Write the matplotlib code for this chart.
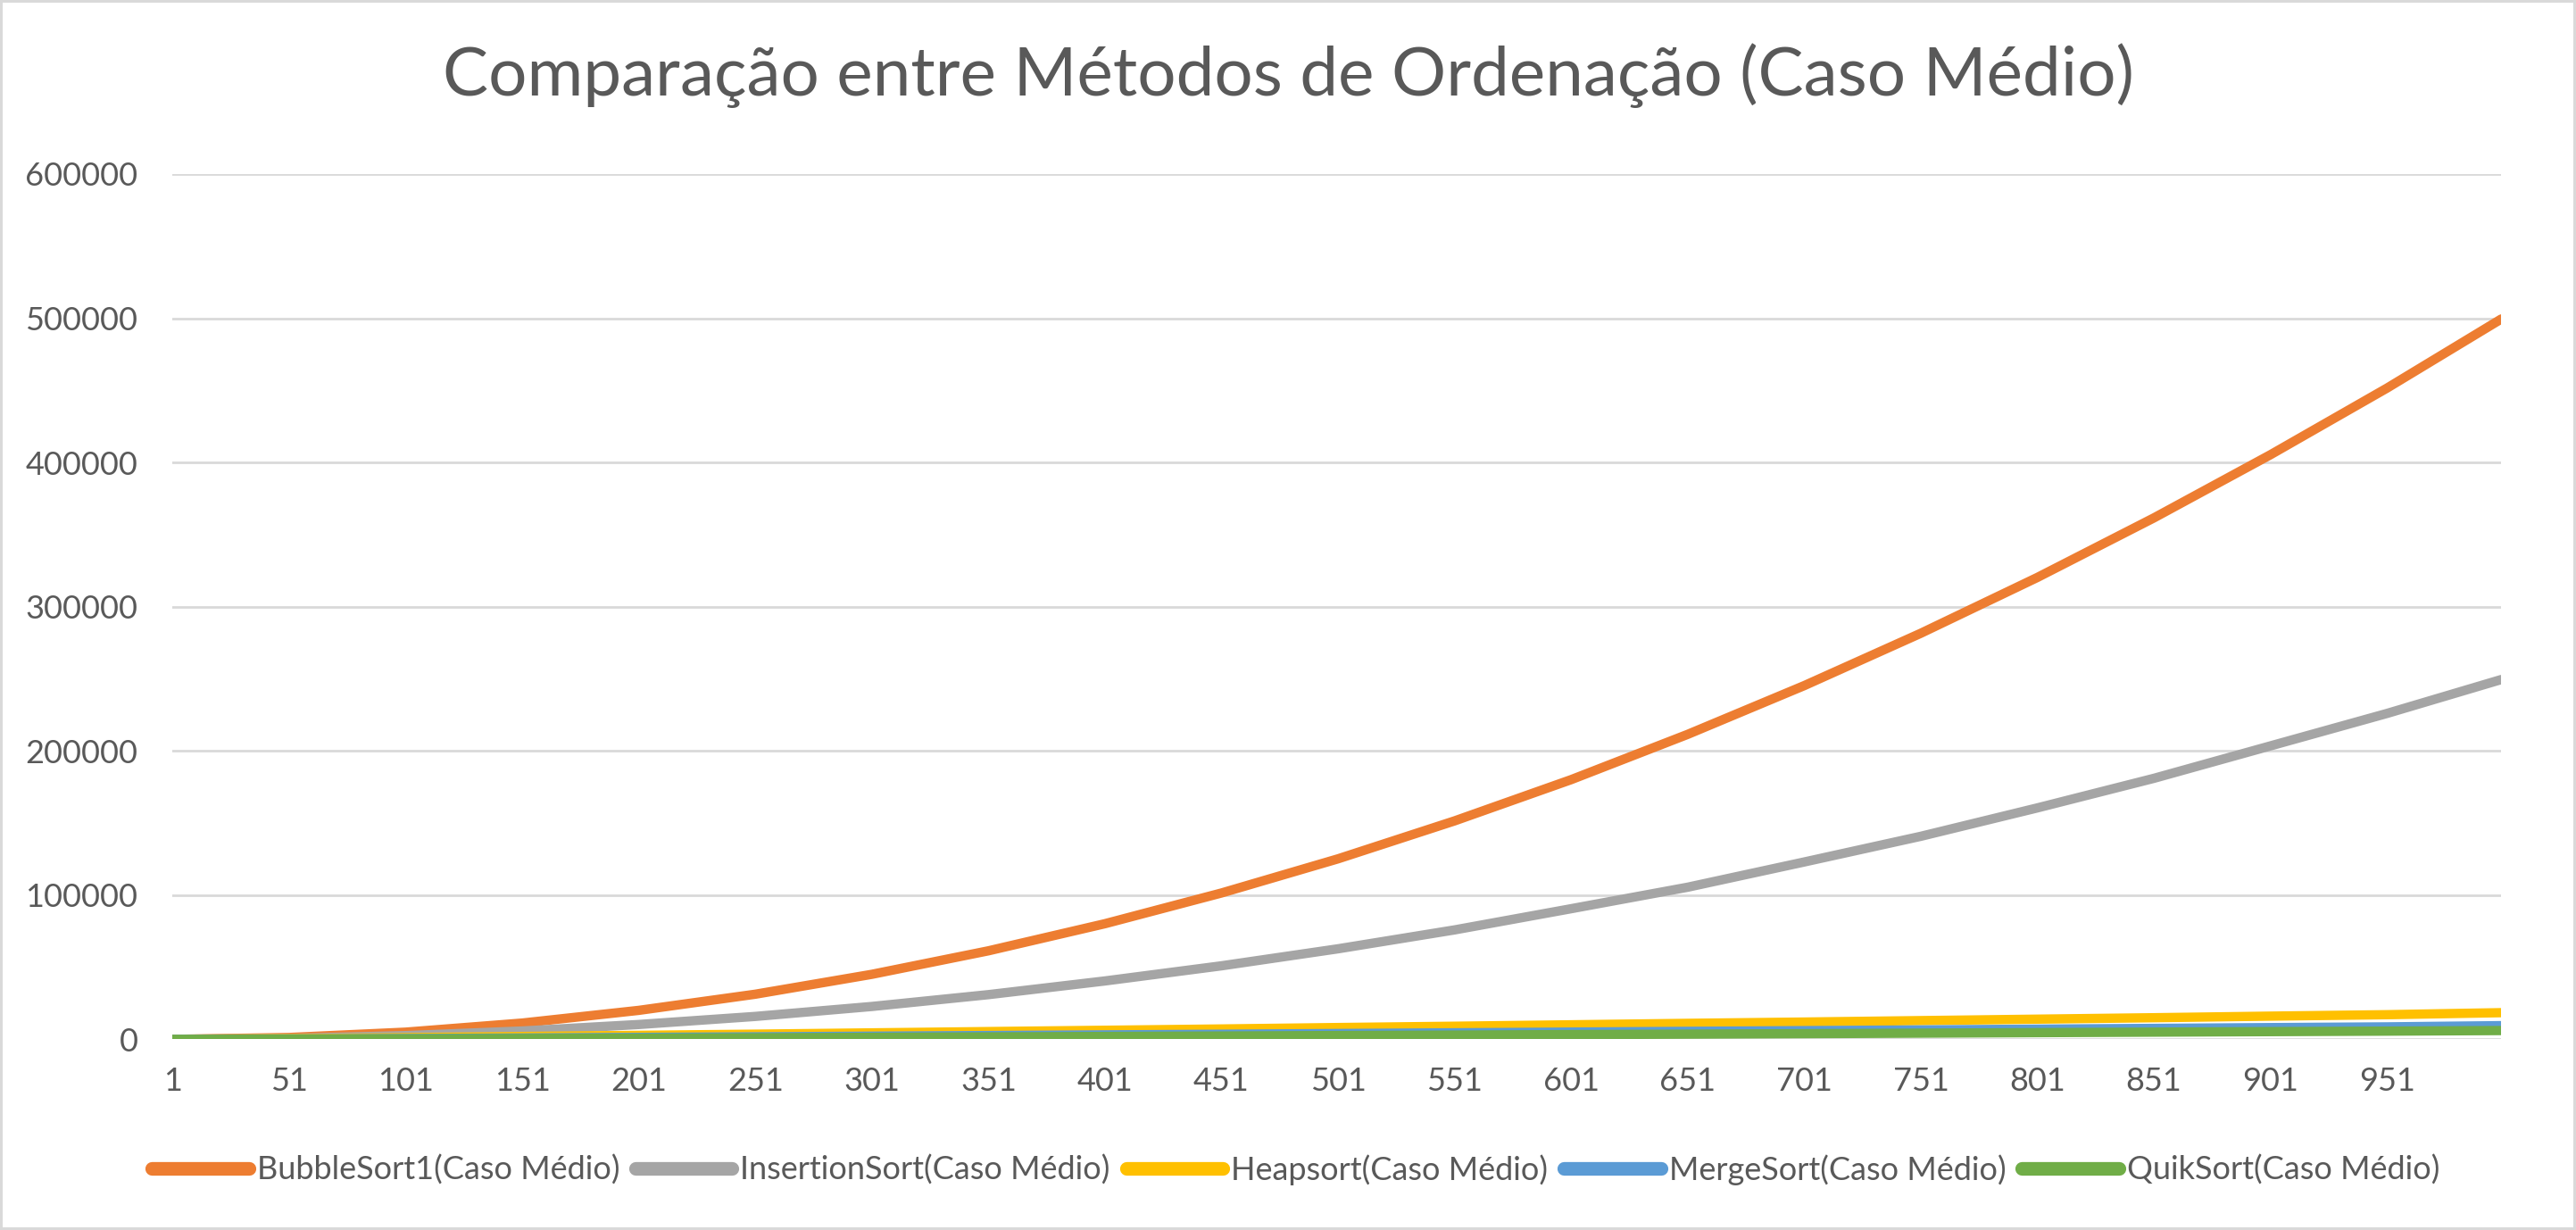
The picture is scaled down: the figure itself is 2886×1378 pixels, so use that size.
import matplotlib
matplotlib.use('Agg')
import matplotlib.pyplot as plt

plt.rcParams['font.family'] = ['Lato', 'DejaVu Sans']

# Sample points (n = array size)
n_values = [1, 51, 101, 151, 201, 251, 301, 351, 401, 451, 501,
            551, 601, 651, 701, 751, 801, 851, 901, 951, 1000]

bubble = [0, 1300, 5000, 11300, 20100, 31300, 45100, 61400, 80200, 101500,
          125200, 151500, 180100, 211500, 245300, 281600, 320300, 361600,
          405400, 451600, 499500]
insertion = [0, 650, 2600, 5800, 10300, 15900, 22800, 31000, 40500, 51000,
             62800, 75900, 90600, 105500, 123000, 140800, 160500, 181000,
             203500, 226000, 249500]
heap = [0, 500, 1200, 2000, 2800, 3600, 4500, 5400, 6300, 7200, 8200,
        9100, 10100, 11100, 12000, 13000, 14000, 15000, 16100, 17100, 18500]
merge = [0, 220, 550, 950, 1350, 1750, 2200, 2650, 3100, 3550, 4050,
         4550, 5050, 5550, 6050, 6550, 7100, 7600, 8150, 8650, 9500]
quick = [0, 150, 350, 600, 850, 1100, 1400, 1700, 2000, 2300, 2650,
         2950, 3300, 3600, 3950, 4300, 4650, 5000, 5350, 5700, 6100]

series_names = ['BubbleSort1(Caso Médio)', 'InsertionSort(Caso Médio)',
                'Heapsort(Caso Médio)', 'MergeSort(Caso Médio)',
                'QuikSort(Caso Médio)']
series_values = [bubble, insertion, heap, merge, quick]
series_colors = ['#ED7D31', '#A5A5A5', '#FFC000', '#5B9BD5', '#70AD47']

x_ticks = list(range(1, 1000, 50))
y_ticks = [0, 100000, 200000, 300000, 400000, 500000, 600000]

TEXT = '#595959'
GRID = '#D9D9D9'

fig = plt.figure(figsize=(28.86, 13.78), dpi=100)
fig.patch.set_facecolor('white')
fig.patch.set_edgecolor(GRID)
fig.patch.set_linewidth(4)

ax = fig.add_axes([0.067, 0.155, 0.904, 0.7035])

for name, vals, color in zip(series_names, series_values, series_colors):
    ax.plot(n_values, vals, color=color, lw=7.5, label=name,
            solid_capstyle='round', solid_joinstyle='round')

ax.set_xlim(1, 1000)
ax.set_ylim(0, 600000)
ax.set_xticks(x_ticks)
ax.set_xticklabels([str(t) for t in x_ticks])
ax.set_yticks(y_ticks)
ax.set_yticklabels([str(t) for t in y_ticks])
ax.tick_params(axis='both', length=0, labelsize=26, colors=TEXT)
ax.tick_params(axis='x', pad=22)
ax.tick_params(axis='y', pad=28)

ax.grid(axis='y', color=GRID, lw=2)
ax.set_axisbelow(True)
for s in ax.spines.values():
    s.set_visible(False)

fig.suptitle('Comparação entre Métodos de Ordenação (Caso Médio)',
             fontsize=55, color=TEXT, y=0.965)

leg = fig.legend(loc='center', bbox_to_anchor=(0.503, 0.049), ncol=5,
                 frameon=False, fontsize=26, handlelength=3.0,
                 columnspacing=0.5, handletextpad=0.25)
for t in leg.get_texts():
    t.set_color(TEXT)
for h in leg.get_lines():
    h.set_linewidth(11)

fig.savefig('out.png', dpi=100, facecolor='white')
